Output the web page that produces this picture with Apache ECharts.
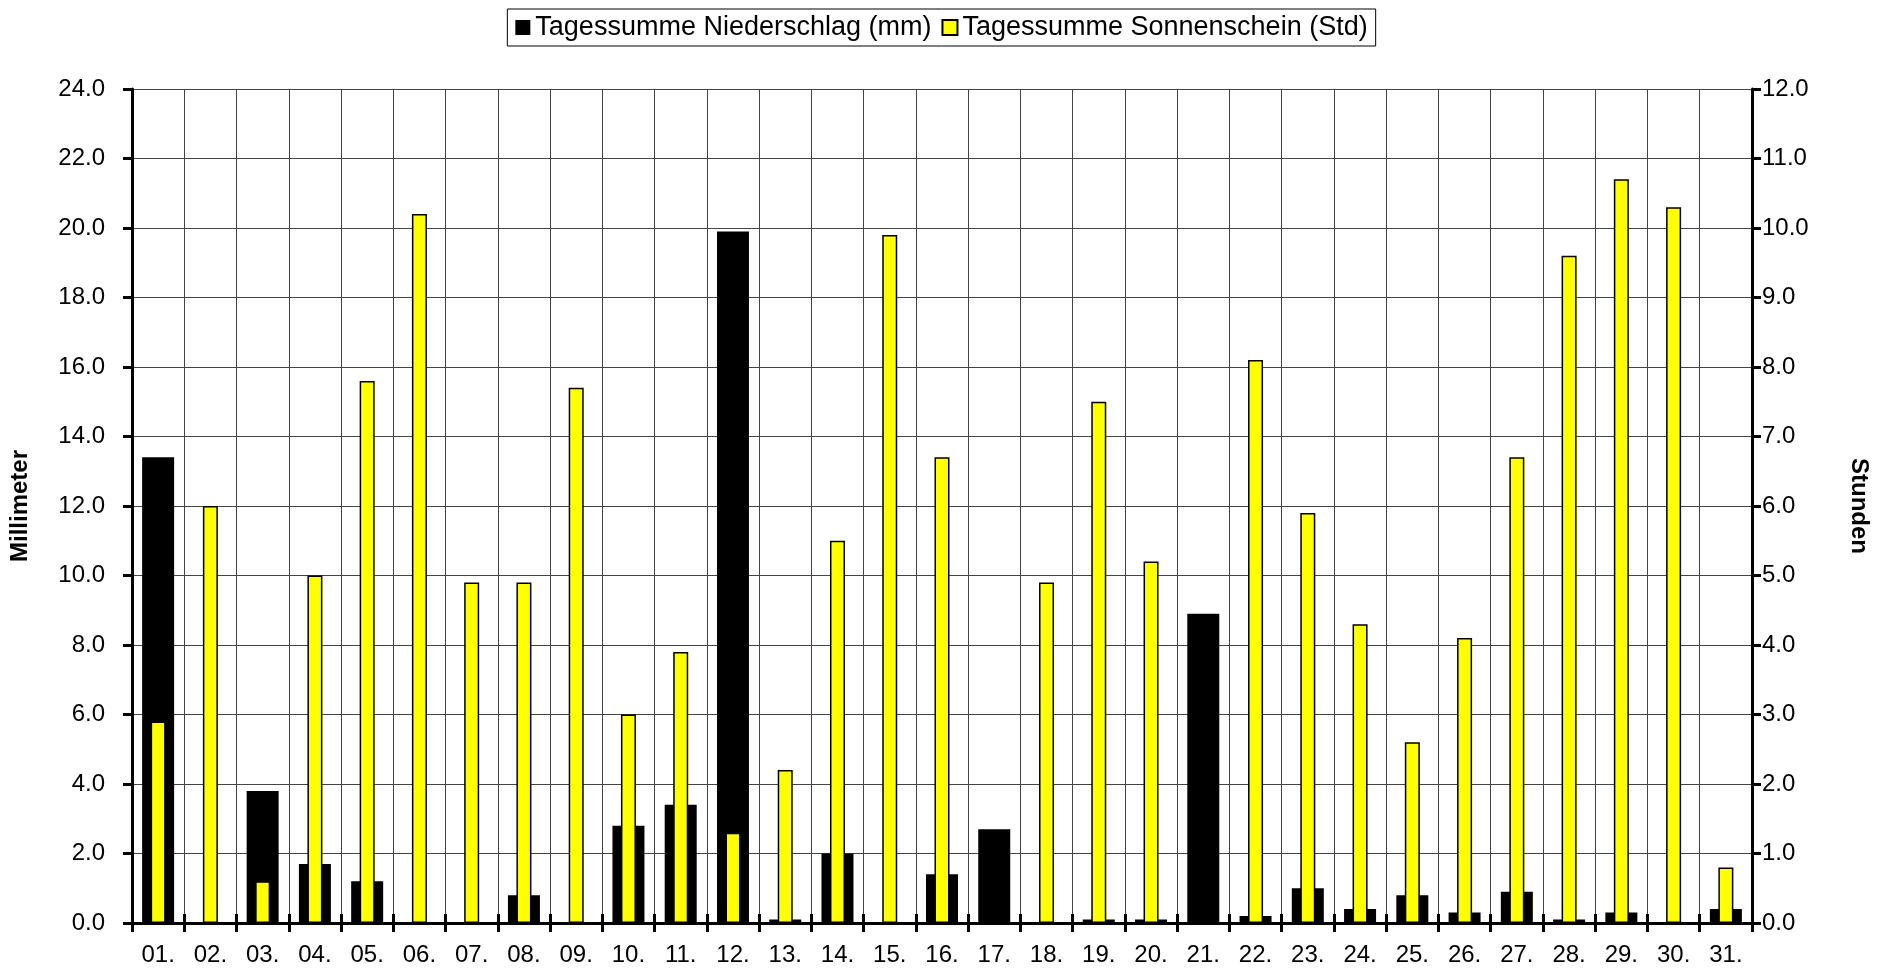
<!DOCTYPE html>
<html>
<head>
<meta charset="utf-8">
<script src="https://cdn.jsdelivr.net/npm/echarts@6/dist/echarts.min.js"></script>
<style>
  html, body { margin: 0; padding: 0; background: #fff; }
  #main { width: 1883px; height: 975px; }
</style>
</head>
<body>
<div id="main"></div>
<script>
// Tage des Monats
var days = ['01.', '02.', '03.', '04.', '05.', '06.', '07.', '08.', '09.', '10.',
  '11.', '12.', '13.', '14.', '15.', '16.', '17.', '18.', '19.', '20.',
  '21.', '22.', '23.', '24.', '25.', '26.', '27.', '28.', '29.', '30.', '31.'];

// Tagessumme Niederschlag (mm)
var niederschlag = [13.4, 0, 3.8, 1.7, 1.2, 0, 0, 0.8, 0, 2.8,
  3.4, 19.9, 0.1, 2.0, 0, 1.4, 2.7, 0, 0.1, 0.1,
  8.9, 0.2, 1.0, 0.4, 0.8, 0.3, 0.9, 0.1, 0.3, 0, 0.4];

// Tagessumme Sonnenschein (Std)
var sonnenschein = [2.9, 6.0, 0.6, 5.0, 7.8, 10.2, 4.9, 4.9, 7.7, 3.0,
  3.9, 1.3, 2.2, 5.5, 9.9, 6.7, 0, 4.9, 7.5, 5.2,
  0, 8.1, 5.9, 4.3, 2.6, 4.1, 6.7, 9.6, 10.7, 10.3, 0.8];

var font = 'Liberation Sans, Arial, sans-serif';

var myChart = echarts.init(document.getElementById('main'));

var option = {
  animation: false,
  textStyle: { fontFamily: font, color: '#000' },
  legend: {
    data: ['Tagessumme Niederschlag (mm)', 'Tagessumme Sonnenschein (Std)'],
    left: 'center',
    top: 9,
    icon: 'rect',
    padding: [5, 8, 5, 8],
    itemWidth: 15,
    itemHeight: 15,
    itemGap: 10,
    borderColor: '#000',
    borderWidth: 1,
    textStyle: { fontSize: 27, color: '#000', fontFamily: font }
  },
  grid: {
    left: 132,
    right: 131,
    top: 89,
    bottom: 52
  },
  xAxis: [
    {
      type: 'category',
      data: days,
      position: 'bottom',
      axisLine: { lineStyle: { color: '#000', width: 3 } },
      axisTick: { show: true, interval: 0, length: 9, lineStyle: { color: '#000', width: 3 } },
      axisLabel: { interval: 0, fontSize: 24, color: '#000', margin: 20, fontFamily: font },
      splitLine: { show: true, interval: 0, lineStyle: { color: '#444', width: 1 } }
    },
    {
      // zweite Achse nur fuer die gelben Balken (zentriert) und die Striche nach innen
      type: 'category',
      data: days,
      position: 'bottom',
      axisLine: { show: false },
      axisTick: { show: true, inside: true, interval: 0, length: 9, lineStyle: { color: '#000', width: 3 } },
      axisLabel: { show: false },
      splitLine: { show: false }
    }
  ],
  yAxis: [
    {
      type: 'value',
      name: 'Millimeter',
      nameLocation: 'middle',
      nameGap: 100,
      nameTextStyle: { fontSize: 24, fontWeight: 'bold', color: '#000', fontFamily: font },
      min: 0,
      max: 24,
      interval: 2,
      axisLine: { show: true, lineStyle: { color: '#000', width: 3 } },
      axisTick: { show: true, length: 9, lineStyle: { color: '#000', width: 3 } },
      axisLabel: {
        fontSize: 24, color: '#000', margin: 27, fontFamily: font,
        formatter: function (v) { return v.toFixed(1); }
      },
      splitLine: { show: true, lineStyle: { color: '#444', width: 1 } }
    },
    {
      type: 'value',
      name: 'Stunden',
      nameLocation: 'middle',
      nameGap: 95,
      nameRotate: -90,
      nameTextStyle: { fontSize: 24, fontWeight: 'bold', color: '#000', fontFamily: font },
      min: 0,
      max: 12,
      interval: 1,
      position: 'right',
      axisLine: { show: true, lineStyle: { color: '#000', width: 3 } },
      axisTick: { show: true, length: 9, lineStyle: { color: '#000', width: 3 } },
      axisLabel: {
        fontSize: 24, color: '#000', margin: 10, fontFamily: font,
        formatter: function (v) { return v.toFixed(1); }
      },
      splitLine: { show: false }
    }
  ],
  series: [
    {
      name: 'Tagessumme Niederschlag (mm)',
      type: 'bar',
      xAxisIndex: 0,
      yAxisIndex: 0,
      barWidth: 32,
      data: niederschlag,
      itemStyle: { color: '#000' }
    },
    {
      name: 'Tagessumme Sonnenschein (Std)',
      type: 'bar',
      xAxisIndex: 1,
      yAxisIndex: 1,
      barWidth: 15,
      data: sonnenschein,
      itemStyle: { color: '#ffff00', borderColor: '#000', borderWidth: 1.5 }
    }
  ]
};

myChart.setOption(option);
</script>
</body>
</html>
